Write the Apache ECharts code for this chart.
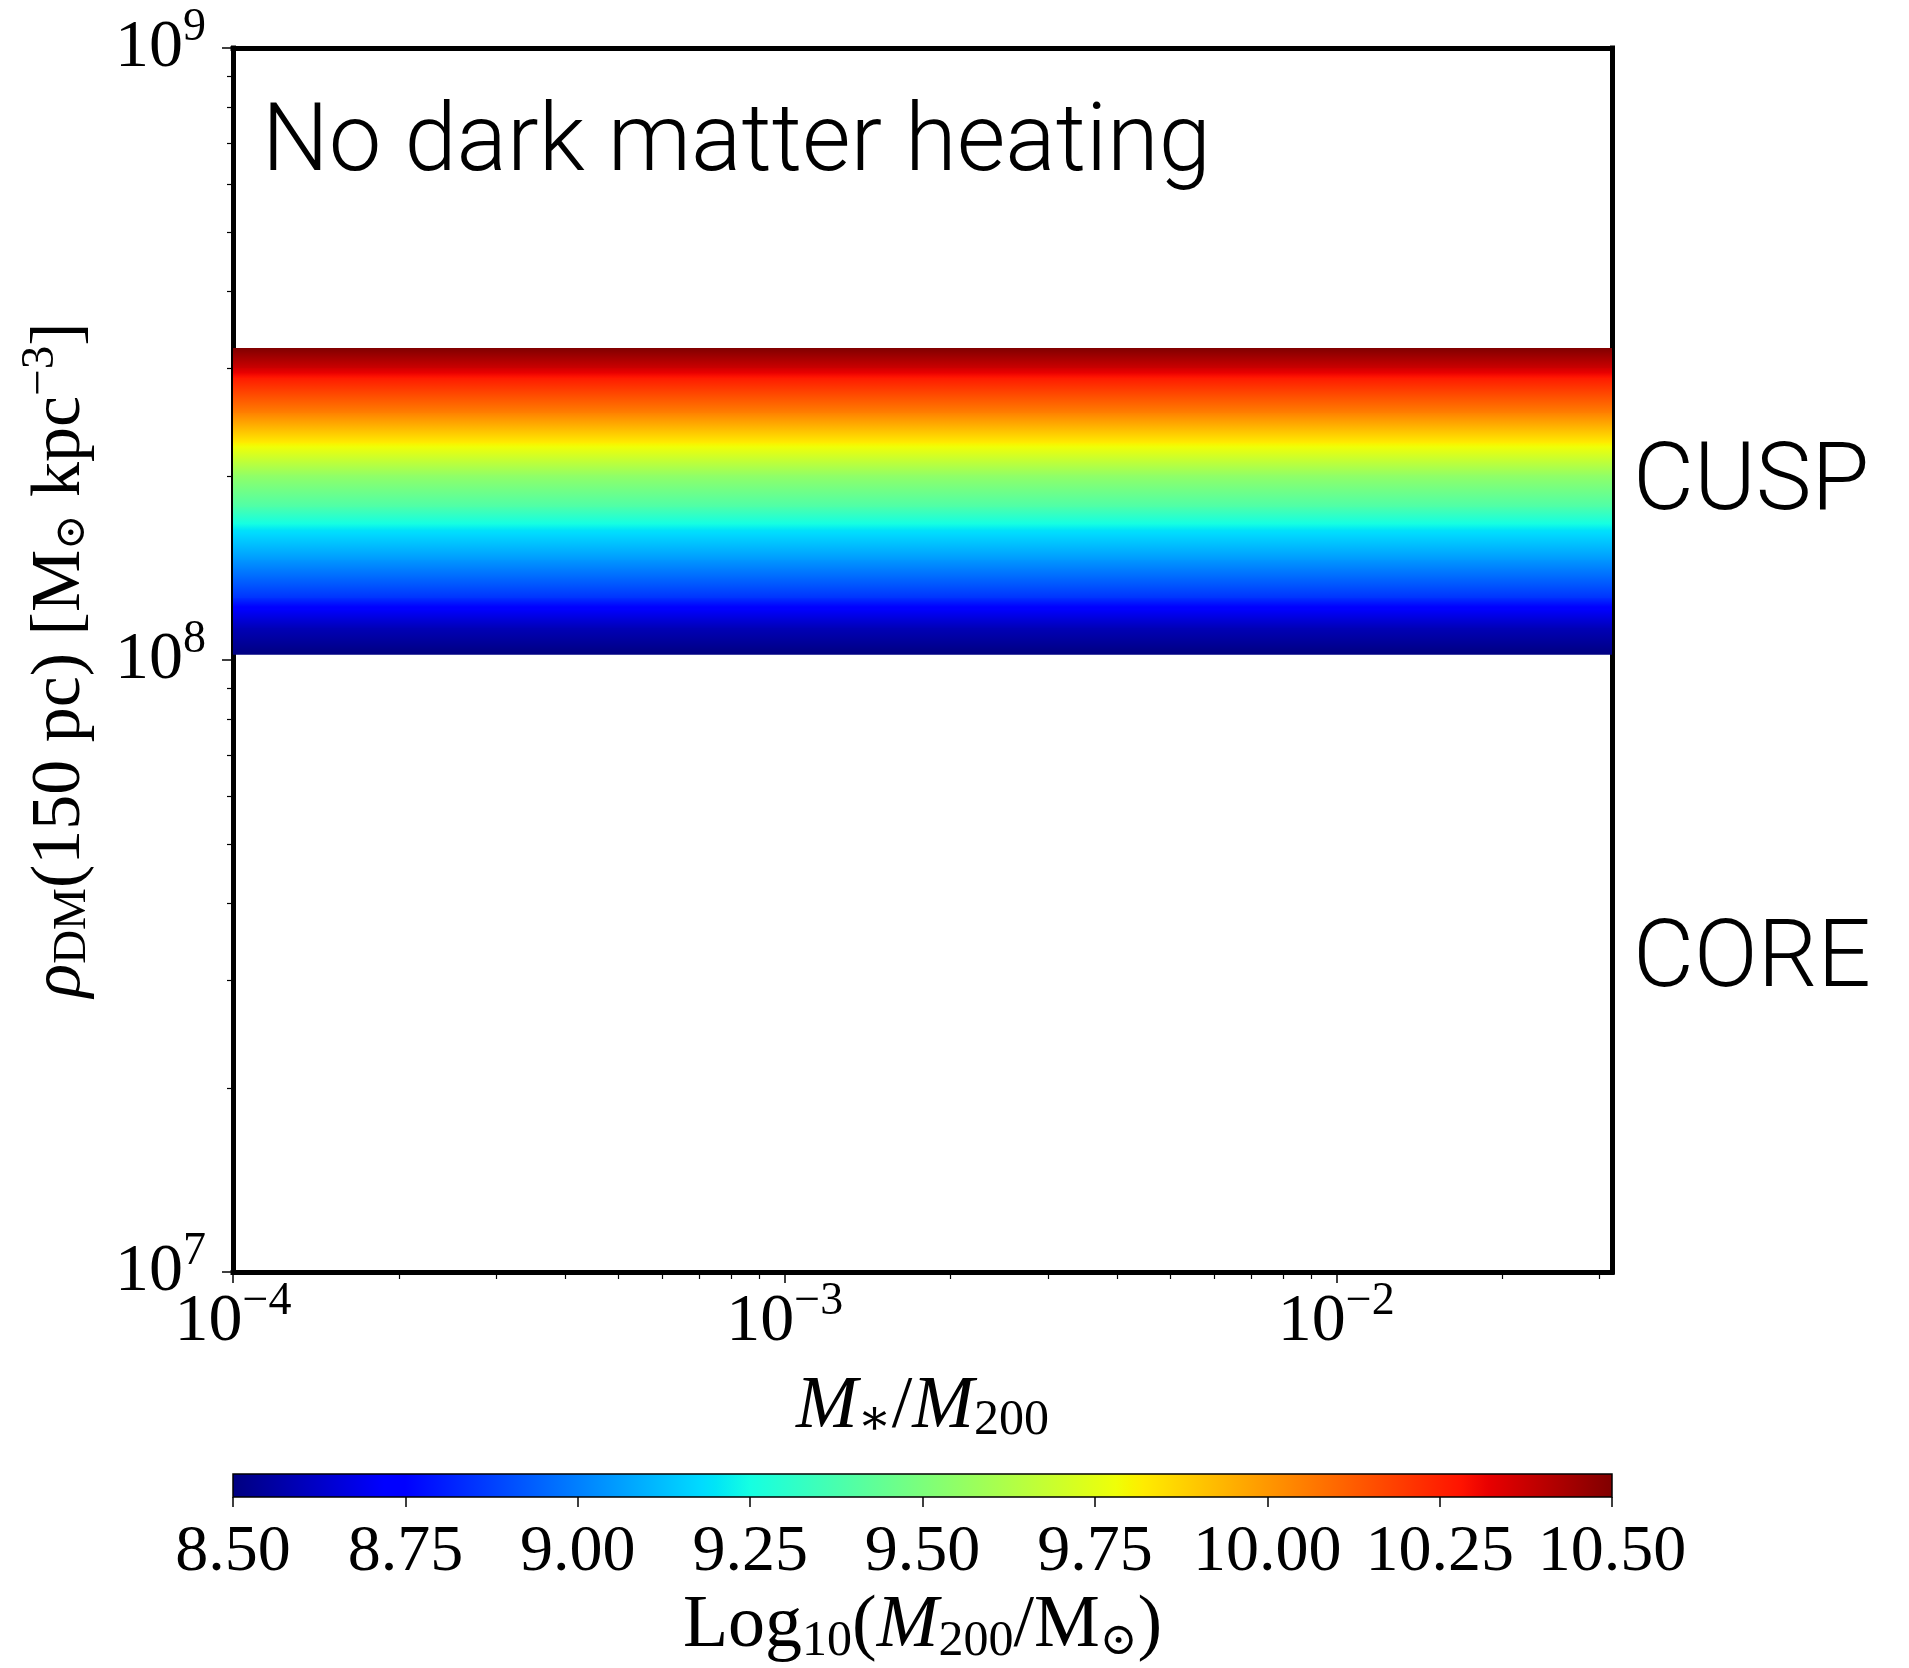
<!DOCTYPE html>
<html>
<head>
<meta charset="utf-8">
<script src="https://cdn.jsdelivr.net/npm/echarts@6/dist/echarts.min.js"></script>
<style>
  html, body { margin: 0; padding: 0; background: #fff; }
  #chart { width: 1909px; height: 1668px; }
</style>
</head>
<body>
<div id="chart"></div>
<script>
// Halo models: log10(M200 / Msun) and the dark-matter density at 150 pc (Msun / kpc^3)
const logM200 = [8.50, 8.60, 8.72, 8.85, 9.05, 9.20, 9.39, 9.56, 9.82, 10.05, 10.27, 10.37, 10.50];
const rhoDM150 = [1.02e8, 1.128e8, 1.207e8, 1.263e8, 1.457e8, 1.631e8, 1.778e8, 2.006e8, 2.263e8, 2.533e8, 2.889e8, 3.000e8, 3.235e8];

// Stellar-to-halo mass ratio range spanned by every model (no heating: density is flat)
const mStarRatioRange = [1e-4, 0.0316];

// Axis ranges and tick labels
const xMajorTicks = [1e-4, 1e-3, 1e-2];
const yMajorTicks = [1e7, 1e8, 1e9];
const yRange = [1e7, 1e9];
const colorRange = [8.5, 10.5];
const colorTickStep = 0.25;

// Text
const panelTitle = 'No dark matter heating';
const regimeLabels = ['CUSP', 'CORE'];

// ---- jet colormap ----
const JET = {
  r: [[0, 0], [0.35, 0], [0.66, 1], [0.89, 1], [1, 0.5]],
  g: [[0, 0], [0.125, 0], [0.375, 1], [0.64, 1], [0.91, 0], [1, 0]],
  b: [[0, 0.5], [0.11, 1], [0.34, 1], [0.65, 0], [1, 0]]
};
const JET_BREAKS = [0, 0.11, 0.125, 0.34, 0.35, 0.375, 0.64, 0.65, 0.66, 0.89, 0.91, 1];
function channel(pts, t) {
  for (let i = 1; i < pts.length; i++) {
    if (t <= pts[i][0]) {
      const [t0, v0] = pts[i - 1], [t1, v1] = pts[i];
      return v0 + (v1 - v0) * (t - t0) / (t1 - t0);
    }
  }
  return pts[pts.length - 1][1];
}
function jet(t) {
  t = Math.min(1, Math.max(0, t));
  const c = k => Math.round(255 * channel(JET[k], t));
  return 'rgb(' + c('r') + ',' + c('g') + ',' + c('b') + ')';
}
function jetStops(t0, t1) {
  const ts = [t0].concat(JET_BREAKS.filter(b => b > t0 && b < t1), [t1]);
  return ts.map(t => ({ offset: (t - t0) / (t1 - t0), color: jet(t) }));
}
const norm = m => (m - colorRange[0]) / (colorRange[1] - colorRange[0]);

// minor ticks of the log axes (2..9 x 10^k)
function minorLogTicks(lo, hi) {
  const out = [];
  for (let d = Math.floor(Math.log10(lo)); d <= Math.ceil(Math.log10(hi)); d++) {
    for (let k = 2; k <= 9; k++) {
      const v = k * Math.pow(10, d);
      if (v > lo && v < hi) out.push(v);
    }
  }
  return out;
}

// ---- text styles ----
const SERIF = '"Liberation Serif", "DejaVu Serif", serif';
const SANS = 'Roboto, "Liberation Sans", sans-serif';
function richSet(base, script, lh, supShift, subShift) {
  return {
    b: { fontFamily: SERIF, fontSize: base, lineHeight: lh, color: '#000' },
    i: { fontFamily: SERIF, fontSize: base, lineHeight: lh, color: '#000', fontStyle: 'italic' },
    sup: { fontFamily: SERIF, fontSize: script, lineHeight: lh - 2 * supShift, padding: [0, 0, 2 * supShift, 0], color: '#000' },
    sub: { fontFamily: SERIF, fontSize: script, lineHeight: lh - 2 * subShift, padding: [2 * subShift, 0, 0, 0], color: '#000' },
    sym: { fontFamily: '"DejaVu Serif", serif', fontSize: script * 0.9, lineHeight: lh - 2 * subShift, padding: [2 * subShift, 0, 0, 0], color: '#000' }
  };
}
const tickRich = richSet(68, 46, 70, 20, 12);
const powLabel = v => {
  const e = Math.round(Math.log10(v));
  return '{b|10}{sup|' + (e < 0 ? '\u2212' + (-e) : e) + '}';
};

const black = '#000';
const spine = { show: true, lineStyle: { color: black, width: 5, cap: 'square' } };
const annotationFont = '300 94px ' + SANS;

const chart = echarts.init(document.getElementById('chart'), null, { renderer: 'canvas' });

const bandData = logM200.map((m, i) => [mStarRatioRange[0], rhoDM150[i], m, mStarRatioRange[1]]);

chart.setOption({
  animation: false,
  backgroundColor: '#fff',
  grid: [
    { left: 233, top: 48, width: 1379, height: 1224 },
    { left: 233, top: 1474, width: 1379, height: 38 }
  ],
  xAxis: [
    { // bottom spine, major ticks, labels
      type: 'log', logBase: 10, gridIndex: 0, position: 'bottom',
      min: mStarRatioRange[0], max: mStarRatioRange[1],
      axisLine: spine,
      axisTick: { show: true, length: 11, lineStyle: { color: black, width: 1.5 }, customValues: xMajorTicks },
      axisLabel: { show: true, margin: 15, customValues: xMajorTicks, formatter: powLabel, rich: tickRich },
      splitLine: { show: false }, minorTick: { show: false },
      name: '{i|M}{sub|\u2217}{b|/}{i|M}{sub|200}',
      nameLocation: 'middle', nameGap: 70,
      nameTextStyle: { rich: richSet(74, 50, 86, 20, 13) }
    },
    { // bottom minor ticks
      type: 'log', logBase: 10, gridIndex: 0, position: 'bottom',
      min: mStarRatioRange[0], max: mStarRatioRange[1],
      axisLine: { show: false },
      axisTick: { show: true, length: 7, lineStyle: { color: black, width: 1.2 }, customValues: minorLogTicks(mStarRatioRange[0], mStarRatioRange[1]) },
      axisLabel: { show: false }, splitLine: { show: false }
    },
    { // top spine
      type: 'log', logBase: 10, gridIndex: 0, position: 'top',
      min: mStarRatioRange[0], max: mStarRatioRange[1],
      axisLine: spine, axisTick: { show: false }, axisLabel: { show: false }, splitLine: { show: false }
    },
    { // colorbar axis
      type: 'value', gridIndex: 1, position: 'bottom',
      min: colorRange[0], max: colorRange[1], interval: colorTickStep,
      axisLine: { show: false },
      axisTick: { show: true, length: 10, lineStyle: { color: black, width: 1.5 } },
      axisLabel: { margin: 23, formatter: v => v.toFixed(2), fontFamily: SERIF, fontSize: 66, color: black, showMinLabel: true, showMaxLabel: true },
      splitLine: { show: false },
      name: '{b|Log}{sub|10}{b|(}{i|M}{sub|200}{b|/M}{sym|\u2299}{b|)}',
      nameLocation: 'middle', nameGap: 84,
      nameTextStyle: { rich: richSet(74, 50, 86, 20, 15) }
    }
  ],
  yAxis: [
    { // left spine, major ticks, labels
      type: 'log', logBase: 10, gridIndex: 0, position: 'left',
      min: yRange[0], max: yRange[1],
      axisLine: spine,
      axisTick: { show: true, length: 11, lineStyle: { color: black, width: 1.5 }, customValues: yMajorTicks },
      axisLabel: { show: true, margin: 27, customValues: yMajorTicks, formatter: powLabel, rich: tickRich },
      splitLine: { show: false },
      name: '{i|\u03c1}{sub|DM}{b|(150 pc) [M}{sym|\u2299}{b| kpc}{sup|\u22123}{b|]}',
      nameLocation: 'middle', nameRotate: 90, nameGap: 128,
      nameTextStyle: { rich: richSet(70, 47, 84, 20, 12) }
    },
    { // left minor ticks
      type: 'log', logBase: 10, gridIndex: 0, position: 'left',
      min: yRange[0], max: yRange[1],
      axisLine: { show: false },
      axisTick: { show: true, length: 6, lineStyle: { color: black, width: 1.2 }, customValues: minorLogTicks(yRange[0], yRange[1]) },
      axisLabel: { show: false }, splitLine: { show: false }
    },
    { // right spine
      type: 'log', logBase: 10, gridIndex: 0, position: 'right',
      min: yRange[0], max: yRange[1],
      axisLine: spine, axisTick: { show: false }, axisLabel: { show: false }, splitLine: { show: false }
    },
    { // colorbar vertical extent
      type: 'value', gridIndex: 1, min: 0, max: 1, show: false
    }
  ],
  series: [
    { // density band: one strip per pair of neighbouring halo masses
      type: 'custom', name: 'rho_DM(150 pc)',
      xAxisIndex: 0, yAxisIndex: 0, clip: true, z: 1,
      encode: { x: [0, 3], y: 1 },
      data: bandData,
      renderItem: function (params, api) {
        const i = params.dataIndexInside;
        if (i >= logM200.length - 1) return null;
        const lo = api.coord([api.value(0), api.value(1)]);
        const hi = api.coord([api.value(3), api.value(1, i + 1)]);
        const overlap = i < logM200.length - 2 ? 1 : 0;
        return {
          type: 'rect',
          shape: { x: lo[0], y: hi[1] - overlap, width: hi[0] - lo[0], height: lo[1] - hi[1] + overlap },
          style: { fill: new echarts.graphic.LinearGradient(0, 1, 0, 0, jetStops(norm(api.value(2)), norm(api.value(2, i + 1)))) }
        };
      }
    },
    { // colorbar
      type: 'custom', name: 'colorbar',
      xAxisIndex: 3, yAxisIndex: 3, z: 1,
      encode: { x: [0, 2], y: [1, 3] },
      data: [[colorRange[0], 0, colorRange[1], 1]],
      renderItem: function (params, api) {
        const a = api.coord([api.value(0), api.value(1)]);
        const b = api.coord([api.value(2), api.value(3)]);
        return {
          type: 'rect',
          shape: { x: a[0], y: b[1], width: b[0] - a[0], height: a[1] - b[1] },
          style: { fill: new echarts.graphic.LinearGradient(0, 0, 1, 0, jetStops(0, 1)), stroke: black, lineWidth: 1.5 }
        };
      }
    }
  ],
  graphic: [
    { type: 'text', x: 262, y: 146, style: { text: panelTitle, font: annotationFont, fill: black, textVerticalAlign: 'middle', verticalAlign: 'middle' } },
    { type: 'text', x: 1633, y: 485, style: { text: regimeLabels[0], font: annotationFont, fill: black, textVerticalAlign: 'middle', verticalAlign: 'middle' } },
    { type: 'text', x: 1633, y: 962, style: { text: regimeLabels[1], font: annotationFont, fill: black, textVerticalAlign: 'middle', verticalAlign: 'middle' } }
  ]
});
</script>
</body>
</html>
